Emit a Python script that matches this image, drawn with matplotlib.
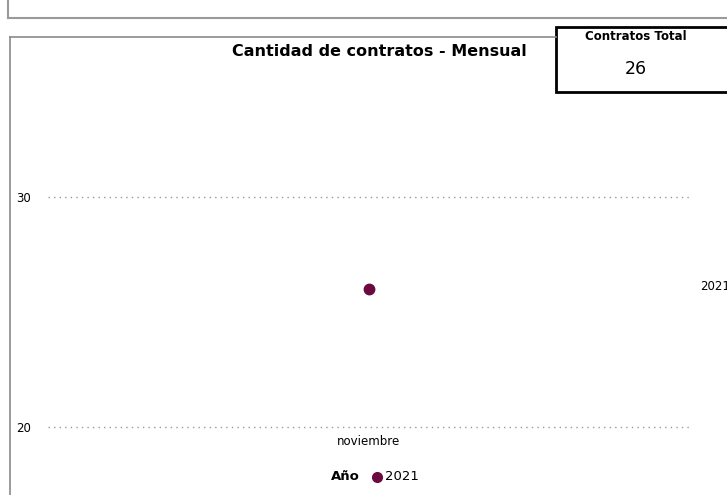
import matplotlib.pyplot as plt
from matplotlib.lines import Line2D
from matplotlib.patches import Rectangle

# data
meses = ['noviembre']
contratos = [26]
anio = '2021'
total = 26
y_ticks = [20, 30]

W, H = 727, 495
color = '#6b0a3f'
plt.rcParams['font.family'] = ['DejaVu Sans']

fig = plt.figure(figsize=(W / 100, H / 100), dpi=100)


def fx(px):
    return px / W


def fy(py):
    return 1 - py / H


# panel borders
fig.add_artist(Line2D([fx(8), 1], [fy(18), fy(18)], color='#9a9a9a', lw=1.5))
fig.add_artist(Line2D([fx(8), fx(8)], [1, fy(18)], color='#9a9a9a', lw=1.5))
fig.add_artist(Line2D([fx(10), fx(556)], [fy(37), fy(37)], color='#8a8a8a', lw=1.2))
fig.add_artist(Line2D([fx(10), fx(10)], [fy(37), 0], color='#8a8a8a', lw=1.2))

# card
fig.add_artist(Rectangle((fx(556), fy(92)), fx(175), fy(27) - fy(92),
                         fill=True, facecolor='white', edgecolor='black', lw=2))
fig.text(fx(636), fy(37), 'Contratos Total', fontsize=8.5, fontweight='bold',
         ha='center', va='center')
fig.text(fx(636), fy(69), str(total), fontsize=12.5, ha='center', va='center')

# title
fig.text(fx(379), fy(52), 'Cantidad de contratos - Mensual', fontsize=11.5,
         fontweight='bold', ha='center', va='center')

ax = fig.add_axes([fx(48), fy(427), fx(690) - fx(48), fy(105) - fy(427)])
x = list(range(len(meses)))
ax.plot(x, contratos, 'o', color=color, markersize=7.5)
ax.set_xlim(-0.5, len(meses) - 0.5)
ax.set_ylim(20, 34)
ax.set_yticks(y_ticks)
ax.set_xticks(x)
ax.set_xticklabels(meses, fontsize=8.5)
ax.tick_params(axis='y', length=0, pad=12, labelsize=8.5)
ax.tick_params(axis='x', length=0, pad=6)
ax.grid(axis='y', linestyle=(0, (1, 3)), color='#999999', lw=1)
for gl in ax.get_ygridlines():
    gl.set_clip_on(False)
for s in ax.spines.values():
    s.set_visible(False)

# end label (clipped at figure edge)
fig.text(fx(700), fy(287), anio, fontsize=8.5, ha='left', va='center')

# legend
fig.text(fx(345), fy(477), 'Año', fontsize=9.5, fontweight='bold', ha='center', va='center')
fig.add_artist(Line2D([fx(377)], [fy(477)], marker='o', color=color, markersize=7, lw=0))
fig.text(fx(385), fy(477), anio, fontsize=9.5, ha='left', va='center')

fig.savefig('out.png', dpi=100)
